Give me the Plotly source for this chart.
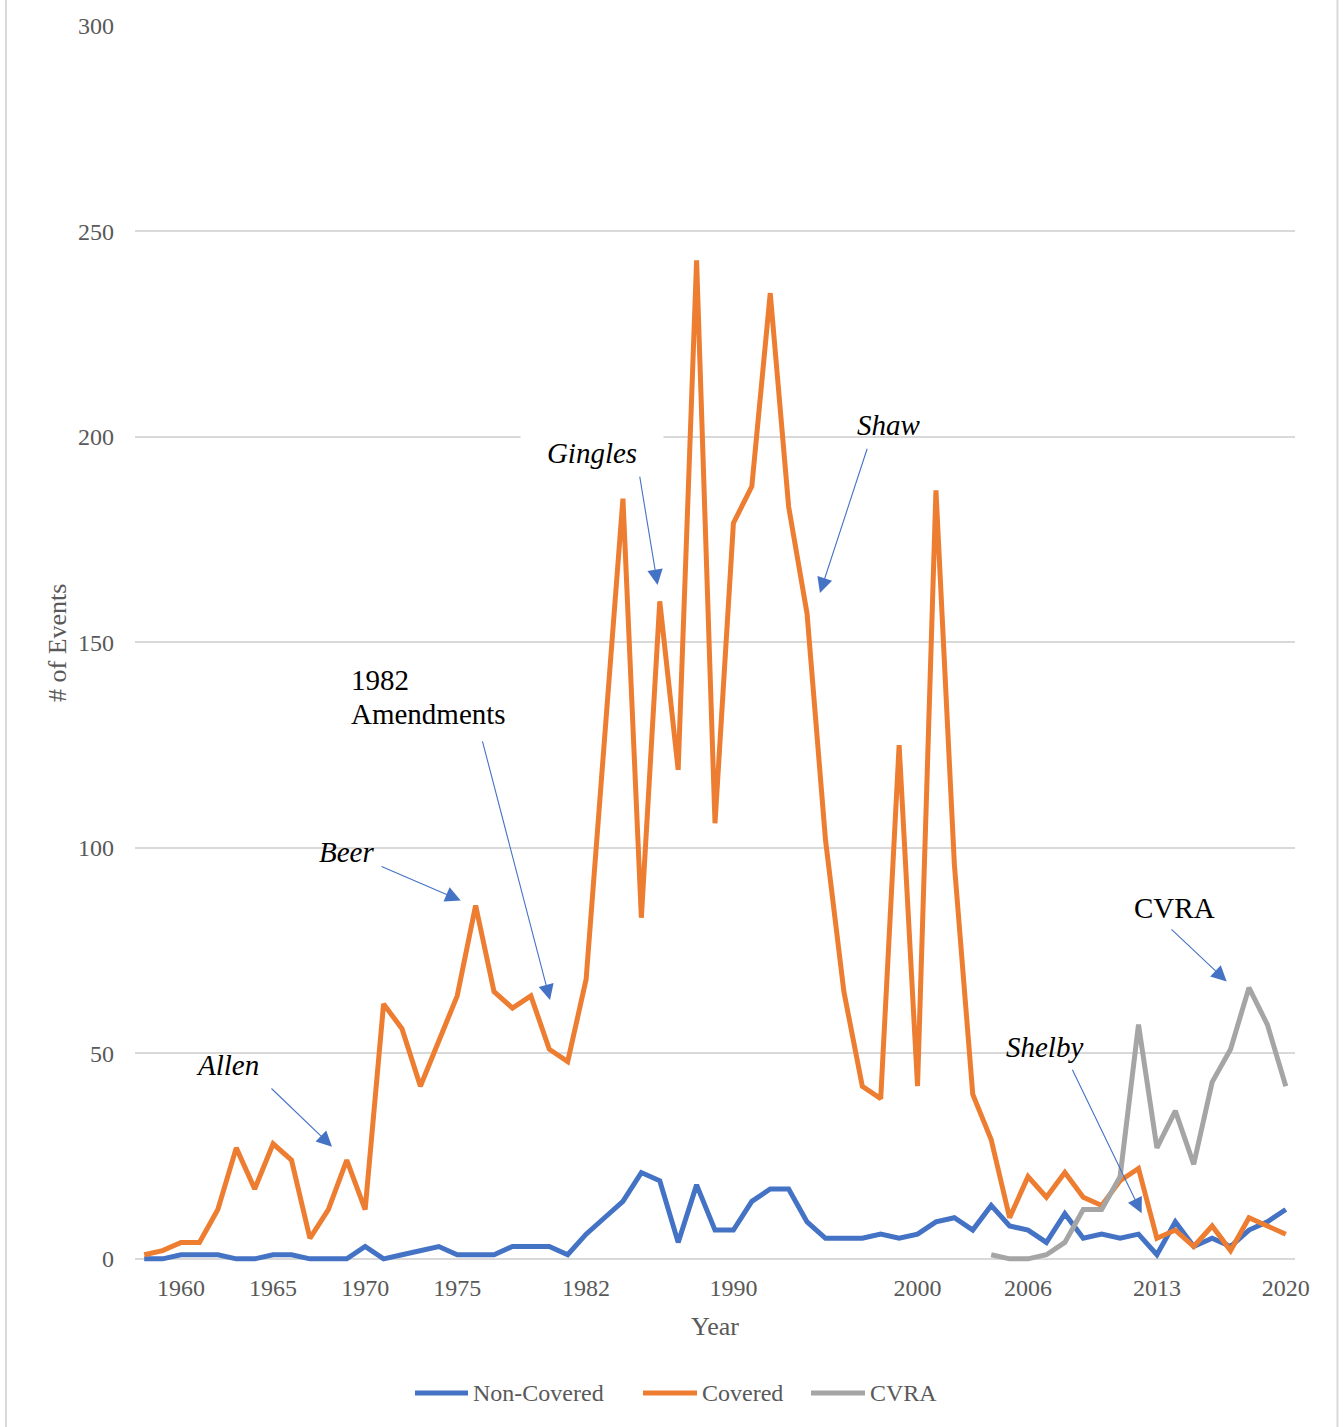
import plotly.graph_objects as go

# ---- data ----------------------------------------------------------------
years = list(range(1958, 2021))

non_covered = [
    0, 0, 1, 1, 1, 0, 0, 1, 1, 0,        # 1958-1967
    0, 0, 3, 0, 1, 2, 3, 1, 1, 1,        # 1968-1977
    3, 3, 3, 1, 6, 10, 14, 21, 19, 4,    # 1978-1987
    18, 7, 7, 14, 17, 17, 9, 5, 5, 5,    # 1988-1997
    6, 5, 6, 9, 10, 7, 13, 8, 7, 4,      # 1998-2007
    11, 5, 6, 5, 6, 1, 9, 3, 5, 3,       # 2008-2017
    7, 9, 12,                            # 2018-2020
]

covered = [
    1, 2, 4, 4, 12, 27, 17, 28, 24, 5,           # 1958-1967
    12, 24, 12, 62, 56, 42, 53, 64, 86, 65,      # 1968-1977
    61, 64, 51, 48, 68, 126, 185, 83, 160, 119,  # 1978-1987
    243, 106, 179, 188, 235, 183, 157, 102, 65, 42,  # 1988-1997
    39, 125, 42, 187, 96, 40, 29, 10, 20, 15,    # 1998-2007
    21, 15, 13, 19, 22, 5, 7, 3, 8, 2,           # 2008-2017
    10, 8, 6,                                    # 2018-2020
]

cvra_years = list(range(2004, 2021))
cvra = [1, 0, 0, 1, 4, 12, 12, 20, 57, 27, 36, 23, 43, 51, 66, 57, 42]

series_names = ["Non-Covered", "Covered", "CVRA"]

tick_years = [1960, 1965, 1970, 1975, 1982, 1990, 2000, 2006, 2013, 2020]
y_ticks = [0, 50, 100, 150, 200, 250, 300]

# annotation labels: (text, x, y, italic)
labels = [
    ("Allen", 1962.55, 47.2, True),
    ("Beer", 1969.0, 99.0, True),
    ("Shaw", 1998.45, 202.9, True),
    ("CVRA", 2013.98, 85.4, False),
    ("Shelby", 2006.87, 51.6, True),
]
# arrows: (tail_x, tail_y, head_x, head_y)
arrows = [
    (1964.83, 41.8, 1968.2, 27.3),    # Allen
    (1970.81, 95.6, 1975.19, 87.2),   # Beer
    (1976.35, 126.3, 1980.04, 63.0),  # 1982 Amendments
    (1984.90, 190.7, 1985.88, 164.0), # Gingles
    (1997.29, 197.5, 1994.70, 162.0), # Shaw
    (2013.71, 80.5, 2016.79, 67.5),   # CVRA
    (2008.37, 46.4, 2012.17, 11.1),   # Shelby
]

# ---- styling ---------------------------------------------------------------
BLUE = "#4472C4"
ORANGE = "#ED7D31"
GRAY = "#A5A5A5"
GRID = "#D9D9D9"
TXT = "#595959"
SERIF = "Liberation Serif, Times New Roman, serif"
COLORS = [BLUE, ORANGE, GRAY]
LW = 5

W, H = 1343, 1427
L, R, T, B = 135, 48, 26, 162
X_RANGE = [1957.5, 2020.5]
Y_RANGE = [-1.5, 300]
PLOT_W = W - L - R
PLOT_H = H - T - B


def paper_x(px):
    return (px - L) / PLOT_W


def paper_y(py):
    return (H - B - py) / PLOT_H


fig = go.Figure()
for name, xs, ys, col in zip(series_names, [years, years, cvra_years],
                             [non_covered, covered, cvra], COLORS):
    fig.add_trace(go.Scatter(x=xs, y=ys, name=name, mode="lines",
                             line=dict(color=col, width=LW), showlegend=False))

ann = []
for text, x, y, ital in labels:
    ann.append(dict(x=x, y=y, xref="x", yref="y", showarrow=False,
                    xanchor="center", yanchor="middle",
                    text=f"<i>{text}</i>" if ital else text,
                    font=dict(family=SERIF, size=29, color="black")))

# Gingles label sits on a white box that interrupts the 200 gridline
ann.append(dict(x=1982.3, y=196.1, xref="x", yref="y", showarrow=False,
                xanchor="center", yanchor="middle",
                text="<i>Gingles</i>", width=140, height=40, bgcolor="white",
                font=dict(family=SERIF, size=29, color="black")))
# two-line label, left aligned
for line_text, ly in [("1982", 140.9), ("Amendments", 132.6)]:
    ann.append(dict(x=1969.13, y=ly, xref="x", yref="y", showarrow=False,
                    xanchor="left", yanchor="middle", text=line_text,
                    font=dict(family=SERIF, size=29, color="black")))

for tx, ty, hx, hy in arrows:
    ann.append(dict(x=hx, y=hy, ax=tx, ay=ty, xref="x", yref="y",
                    axref="x", ayref="y", showarrow=True, text="",
                    arrowhead=2, arrowsize=2.8, arrowwidth=1.1, arrowcolor=BLUE,
                    standoff=0))

# axis titles
ann.append(dict(x=paper_x(715), y=paper_y(1326), xref="paper", yref="paper",
                xanchor="center", yanchor="middle", showarrow=False, text="Year",
                font=dict(family=SERIF, size=26, color=TXT)))
ann.append(dict(x=paper_x(57), y=paper_y(643), xref="paper", yref="paper",
                xanchor="center", yanchor="middle", showarrow=False,
                text="# of Events", textangle=-90,
                font=dict(family=SERIF, size=26, color=TXT)))

# thin chart frame on left and right
shapes = [
    dict(type="line", xref="paper", yref="paper", x0=paper_x(6), x1=paper_x(6),
         y0=paper_y(H + 5), y1=paper_y(-5), line=dict(color=GRID, width=2)),
    dict(type="line", xref="paper", yref="paper", x0=paper_x(1337.5), x1=paper_x(1337.5),
         y0=paper_y(H + 5), y1=paper_y(-5), line=dict(color=GRID, width=2)),
]

# legend drawn below the axis: sample line followed by its label
legend_y = 1393
legend_items = [(415, 468, 471), (643, 697, 700), (811, 865, 868)]
for (x0, x1, tx), name, col in zip(legend_items, series_names, COLORS):
    shapes.append(dict(type="line", xref="paper", yref="paper",
                       x0=paper_x(x0), x1=paper_x(x1),
                       y0=paper_y(legend_y), y1=paper_y(legend_y),
                       line=dict(color=col, width=LW)))
    ann.append(dict(x=paper_x(tx), y=paper_y(legend_y), xref="paper", yref="paper",
                    xanchor="left", yanchor="middle", showarrow=False, text=name,
                    font=dict(family=SERIF, size=24, color=TXT)))

fig.update_layout(
    width=W, height=H,
    margin=dict(l=L, r=R, t=T, b=B, pad=0),
    paper_bgcolor="white", plot_bgcolor="white",
    font=dict(family=SERIF, color=TXT),
    showlegend=False,
    annotations=ann,
    shapes=shapes,
    xaxis=dict(range=X_RANGE, tickmode="array", tickvals=tick_years,
               ticktext=[str(t) for t in tick_years], showgrid=False, zeroline=False,
               showline=False, ticks="", ticklabelstandoff=6,
               tickfont=dict(family=SERIF, size=24, color=TXT)),
    yaxis=dict(range=Y_RANGE, tickmode="array", tickvals=y_ticks, showgrid=True,
               gridcolor=GRID, gridwidth=1.5, zeroline=True, zerolinecolor=GRID,
               zerolinewidth=1.5, showline=False, ticks="", ticklabelstandoff=20,
               tickfont=dict(family=SERIF, size=24, color=TXT)),
)

fig.write_html("out.html")
